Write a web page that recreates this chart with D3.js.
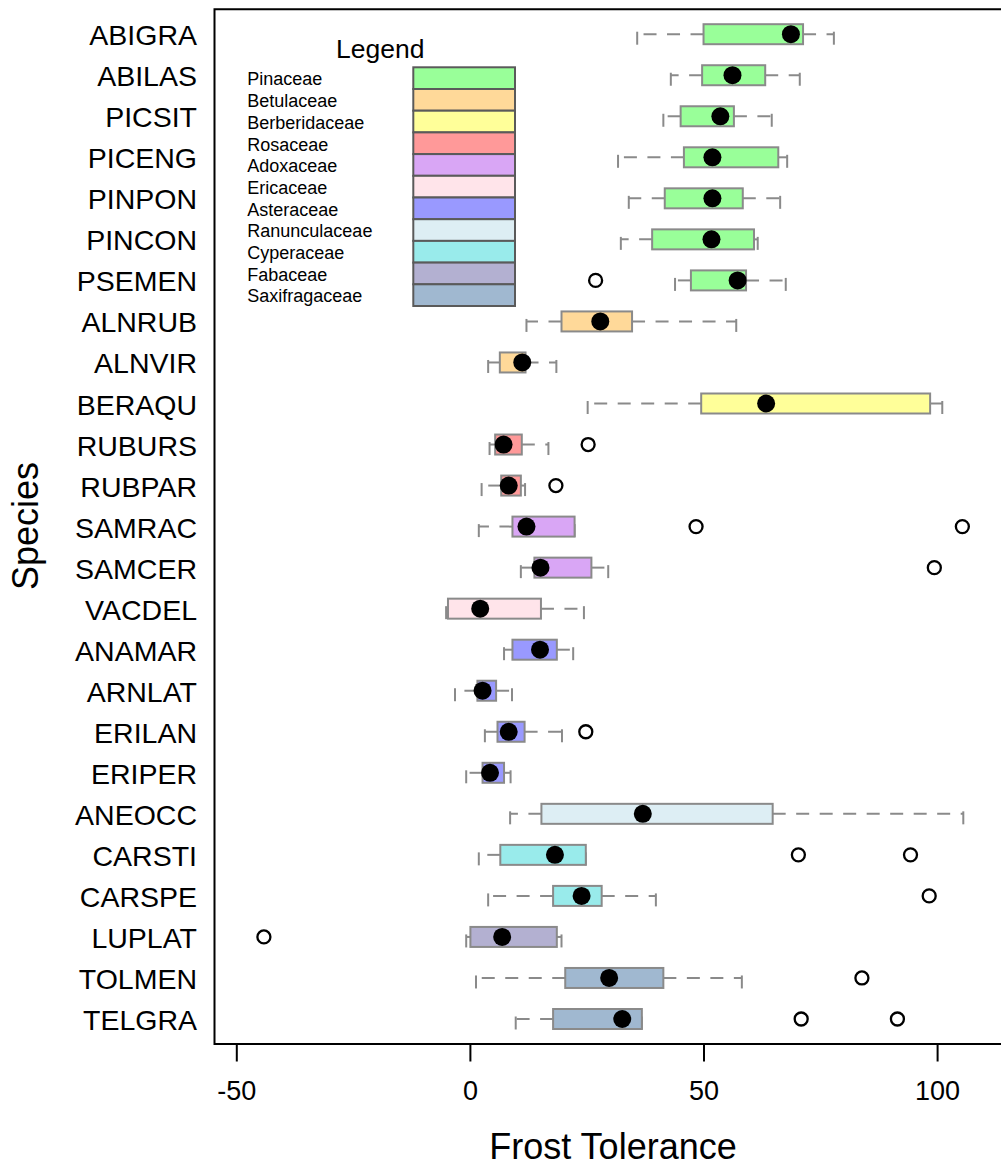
<!DOCTYPE html>
<html>
<head>
<meta charset="utf-8">
<script src="https://cdn.jsdelivr.net/npm/d3@7/dist/d3.min.js"></script>
<style>
  html, body { margin: 0; padding: 0; background: #fff; }
  svg { display: block; }
  text { font-family: "Liberation Sans", Arial, sans-serif; fill: #000; }
</style>
</head>
<body>
<svg id="chart" width="1001" height="1166"></svg>
<script>
// ---- data ----
const species = ["ABIGRA","ABILAS","PICSIT","PICENG","PINPON","PINCON","PSEMEN",
  "ALNRUB","ALNVIR","BERAQU","RUBURS","RUBPAR","SAMRAC","SAMCER","VACDEL",
  "ANAMAR","ARNLAT","ERILAN","ERIPER","ANEOCC","CARSTI","CARSPE","LUPLAT","TOLMEN","TELGRA"];
const speciesFamily = ["Pinaceae","Pinaceae","Pinaceae","Pinaceae","Pinaceae","Pinaceae","Pinaceae",
  "Betulaceae","Betulaceae","Berberidaceae","Rosaceae","Rosaceae","Adoxaceae","Adoxaceae","Ericaceae",
  "Asteraceae","Asteraceae","Asteraceae","Asteraceae","Ranunculaceae","Cyperaceae","Cyperaceae",
  "Fabaceae","Saxifragaceae","Saxifragaceae"];
const families = ["Pinaceae","Betulaceae","Berberidaceae","Rosaceae","Adoxaceae","Ericaceae",
  "Asteraceae","Ranunculaceae","Cyperaceae","Fabaceae","Saxifragaceae"];
const familyColors = ["#99FF99","#FFD999","#FFFF99","#FF9999","#D9A6F5","#FFE4EA",
  "#9999FF","#DDEEF4","#99EBEB","#B3B0D1","#A0B8D0"];
const whiskerLow  = [35.7,42.9,41.3,31.6,33.9,32.2,43.8,12.0,3.8,25.1,4.1,2.4,1.8,10.8,-5.2,7.2,-3.3,3.1,-0.9,8.5,1.8,3.8,-0.9,1.2,9.7];
const q1          = [49.9,49.6,45.0,45.7,41.6,38.9,47.2,19.5,6.3,49.4,5.3,6.6,9.0,13.7,-4.8,9.0,1.5,5.8,2.6,15.2,6.4,17.7,0.0,20.3,17.7];
const medians     = [68.6,56.1,53.5,51.8,51.8,51.6,57.2,27.8,11.1,63.3,7.1,8.2,12.0,15.0,2.1,14.9,2.6,8.2,4.2,36.9,18.1,23.8,6.8,29.7,32.5];
const q3          = [71.2,63.1,56.4,65.9,58.3,60.7,59.0,34.6,11.8,98.4,11.0,10.8,22.3,25.9,15.1,18.5,5.5,11.6,7.2,64.7,24.7,28.1,18.5,41.3,36.7];
const whiskerHigh = [77.8,70.5,64.5,67.8,66.3,61.5,67.5,56.9,18.4,101.0,16.7,11.7,22.3,29.5,24.3,22.0,8.9,19.6,8.6,105.5,24.7,39.7,19.5,58.1,36.7];
const outliers    = [[],[],[],[],[],[],[26.8],[],[],[],[25.2],[18.3],[48.3,105.3],[99.3],[],[],[],[24.7],[],[],[70.2,94.2],[98.2],[-44.2],[83.8],[70.8,91.4]];
const xTicks = [-50, 0, 50, 100];

// ---- scales ----
const svg = d3.select("#chart");
const x = d3.scaleLinear().domain([-50, 100]).range([236.8, 937.6]);
const y = d3.scalePoint().domain(species).range([34.2, 1019]);
const color = d3.scaleOrdinal().domain(families).range(familyColors);

const rows = species.map((s, i) => ({
  s, fam: speciesFamily[i], lo: whiskerLow[i], q1: q1[i], med: medians[i],
  q3: q3[i], hi: whiskerHigh[i], out: outliers[i]
}));

const frameLeft = 214.5, frameTop = 9.3, frameBottom = 1044;
const boxH = 20;
const wColor = "#8a8a8a";

const g = svg.append("g");

// whiskers (dashed, drawn from the box outwards)
rows.forEach(r => {
  const yy = y(r.s);
  [[r.q1, r.lo], [r.q3, r.hi]].forEach(([from, to]) => {
    if (Math.abs(x(to) - x(from)) > 0.1) {
      g.append("line")
        .attr("x1", x(from)).attr("x2", x(to))
        .attr("y1", yy).attr("y2", yy)
        .attr("stroke", wColor).attr("stroke-width", 2)
        .attr("stroke-dasharray", "13,10.5");
    }
    g.append("line")
      .attr("x1", x(to)).attr("x2", x(to))
      .attr("y1", yy - 2.5).attr("y2", yy + 10.5)
      .attr("stroke", wColor).attr("stroke-width", 2);
  });
});

// boxes
g.selectAll("rect.box").data(rows).join("rect")
  .attr("class", "box")
  .attr("x", d => x(d.q1))
  .attr("y", d => y(d.s) - boxH / 2)
  .attr("width", d => x(d.q3) - x(d.q1))
  .attr("height", boxH)
  .attr("fill", d => color(d.fam))
  .attr("stroke", wColor).attr("stroke-width", 2);

// medians
g.selectAll("circle.med").data(rows).join("circle")
  .attr("class", "med")
  .attr("cx", d => x(d.med)).attr("cy", d => y(d.s))
  .attr("r", 9).attr("fill", "#000");

// outliers
const outPts = rows.flatMap(r => r.out.map(v => ({ s: r.s, v })));
g.selectAll("circle.out").data(outPts).join("circle")
  .attr("class", "out")
  .attr("cx", d => x(d.v)).attr("cy", d => y(d.s))
  .attr("r", 6.5).attr("fill", "#fff")
  .attr("stroke", "#000").attr("stroke-width", 2.3);

// frame (top, left, bottom; right edge lies beyond the window)
svg.append("path")
  .attr("d", `M1012,${frameTop} H${frameLeft} V${frameBottom} H1012`)
  .attr("fill", "none").attr("stroke", "#000").attr("stroke-width", 2);

// x axis
const xAxis = svg.append("g");
xTicks.forEach(t => {
  xAxis.append("line")
    .attr("x1", x(t)).attr("x2", x(t))
    .attr("y1", frameBottom).attr("y2", 1061.5)
    .attr("stroke", "#000").attr("stroke-width", 2);
  xAxis.append("text")
    .attr("x", x(t)).attr("y", 1100)
    .attr("text-anchor", "middle")
    .attr("font-size", 27)
    .text(t);
});

// y labels
svg.append("g").selectAll("text").data(species).join("text")
  .attr("x", 197).attr("y", d => y(d) + 11)
  .attr("text-anchor", "end")
  .attr("font-size", 28.5)
  .text(d => d);

// axis titles
svg.append("text")
  .attr("x", 613).attr("y", 1158.5)
  .attr("text-anchor", "middle")
  .attr("font-size", 36)
  .text("Frost Tolerance");
svg.append("text")
  .attr("transform", "translate(37.5,526) rotate(-90)")
  .attr("text-anchor", "middle")
  .attr("font-size", 36)
  .text("Species");

// legend
const lg = svg.append("g");
lg.append("text").attr("x", 336).attr("y", 58.3)
  .attr("font-size", 26.5).text("Legend");
const sw0 = 67.3, swH = (306 - 67.3) / families.length;
families.forEach((f, i) => {
  lg.append("rect")
    .attr("x", 413.3).attr("y", sw0 + i * swH)
    .attr("width", 101.7).attr("height", swH)
    .attr("fill", color(f))
    .attr("stroke", "#5a5a5a").attr("stroke-width", 2);
  lg.append("text")
    .attr("x", 247.3).attr("y", sw0 + i * swH + swH / 2 + 7.3)
    .attr("font-size", 18)
    .text(f);
});
</script>
</body>
</html>
